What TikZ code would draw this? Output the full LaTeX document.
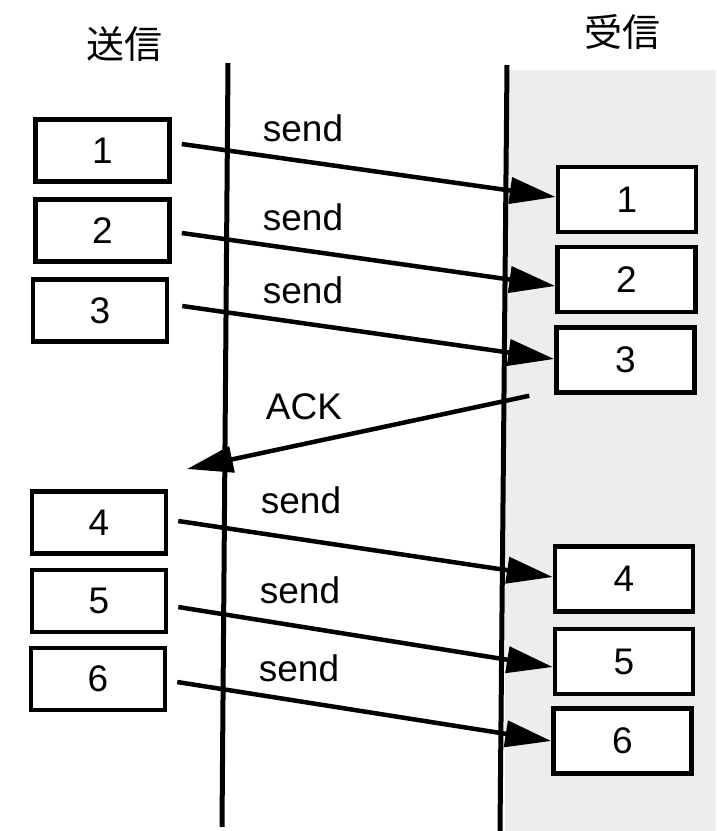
\documentclass[tikz,border=0pt]{standalone}
\usepackage{fontspec}
\setmainfont{Liberation Sans}
\newfontfamily\cjk{Noto Sans CJK JP}
\usetikzlibrary{arrows.meta}
\begin{document}
\begin{tikzpicture}[x=1pt,y=-1pt,
  pkt/.style={draw,line width=4.5pt,fill=white,minimum width=134pt,minimum height=62pt,inner sep=0pt,font=\fontsize{37}{40}\selectfont},
  rpkt/.style={pkt,minimum width=138pt,minimum height=65pt},
  lbl/.style={font=\fontsize{37}{40}\selectfont,inner sep=0pt},
  msg/.style={line width=4.5pt,-{Triangle[length=46pt,width=26pt]}},
  life/.style={line width=5pt}]
\useasboundingbox (0,0) rectangle (716,831);
\fill[black!7] (505,70) rectangle (716,831);
% lifelines
\coordinate (lt) at (228,63);
\coordinate (lb) at (222,827);
\coordinate (rt) at (507,65);
\coordinate (rb) at (500,831);
\draw[life] (lt) -- (lb);
\draw[life] (rt) -- (rb);
% titles
\node[inner sep=0pt,font=\cjk\fontsize{38}{40}\selectfont] (snd) at (124,44) {送信};
\node[inner sep=0pt,font=\cjk\fontsize{38}{40}\selectfont] (rcv) at (622,32) {受信};
% sender boxes
\node[pkt] (L1) at (102.5,150.5) {1};
\node[pkt] (L2) at (102.5,230.5) {2};
\node[pkt] (L3) at (100,310.5) {3};
\node[pkt] (L4) at (99,522.5) {4};
\node[pkt] (L5) at (99,601) {5};
\node[pkt] (L6) at (98,679) {6};
% receiver boxes
\node[rpkt] (R1) at (627,199.5) {1};
\node[rpkt] (R2) at (626.5,279.5) {2};
\node[rpkt] (R3) at (625.5,360) {3};
\node[rpkt] (R4) at (624,579) {4};
\node[rpkt] (R5) at (624,661.5) {5};
\node[rpkt] (R6) at (622.5,741) {6};
% labels
\node[lbl] (s1) at (303,128) {send};
\node[lbl] (s2) at (303,217) {send};
\node[lbl] (s3) at (303,290) {send};
\node[lbl] (ack) at (304,407) {ACK};
\node[lbl] (s4) at (301,500) {send};
\node[lbl] (s5) at (300,590) {send};
\node[lbl] (s6) at (299,668) {send};
% messages
\draw[msg] ([xshift=10pt,yshift=6.5pt]L1.east) -- ([yshift=2.5pt]R1.west);
\draw[msg] ([xshift=10pt,yshift=-2.5pt]L2.east) -- ([yshift=-6.5pt]R2.west);
\draw[msg] ([xshift=13pt,yshift=4.5pt]L3.east) -- ([yshift=1pt]R3.west);
\coordinate (ackend) at (187,469);
\draw[msg] ([xshift=-25pt,yshift=-1pt]R3.south west) -- (ackend);
\draw[msg] ([xshift=10pt,yshift=1.5pt]L4.east) -- ([yshift=2pt]R4.west);
\draw[msg] ([xshift=10pt,yshift=-6pt]L5.east) -- ([yshift=-5.5pt]R5.west);
\draw[msg] ([xshift=10pt,yshift=-3pt]L6.east) -- (R6.west);
\end{tikzpicture}
\end{document}
